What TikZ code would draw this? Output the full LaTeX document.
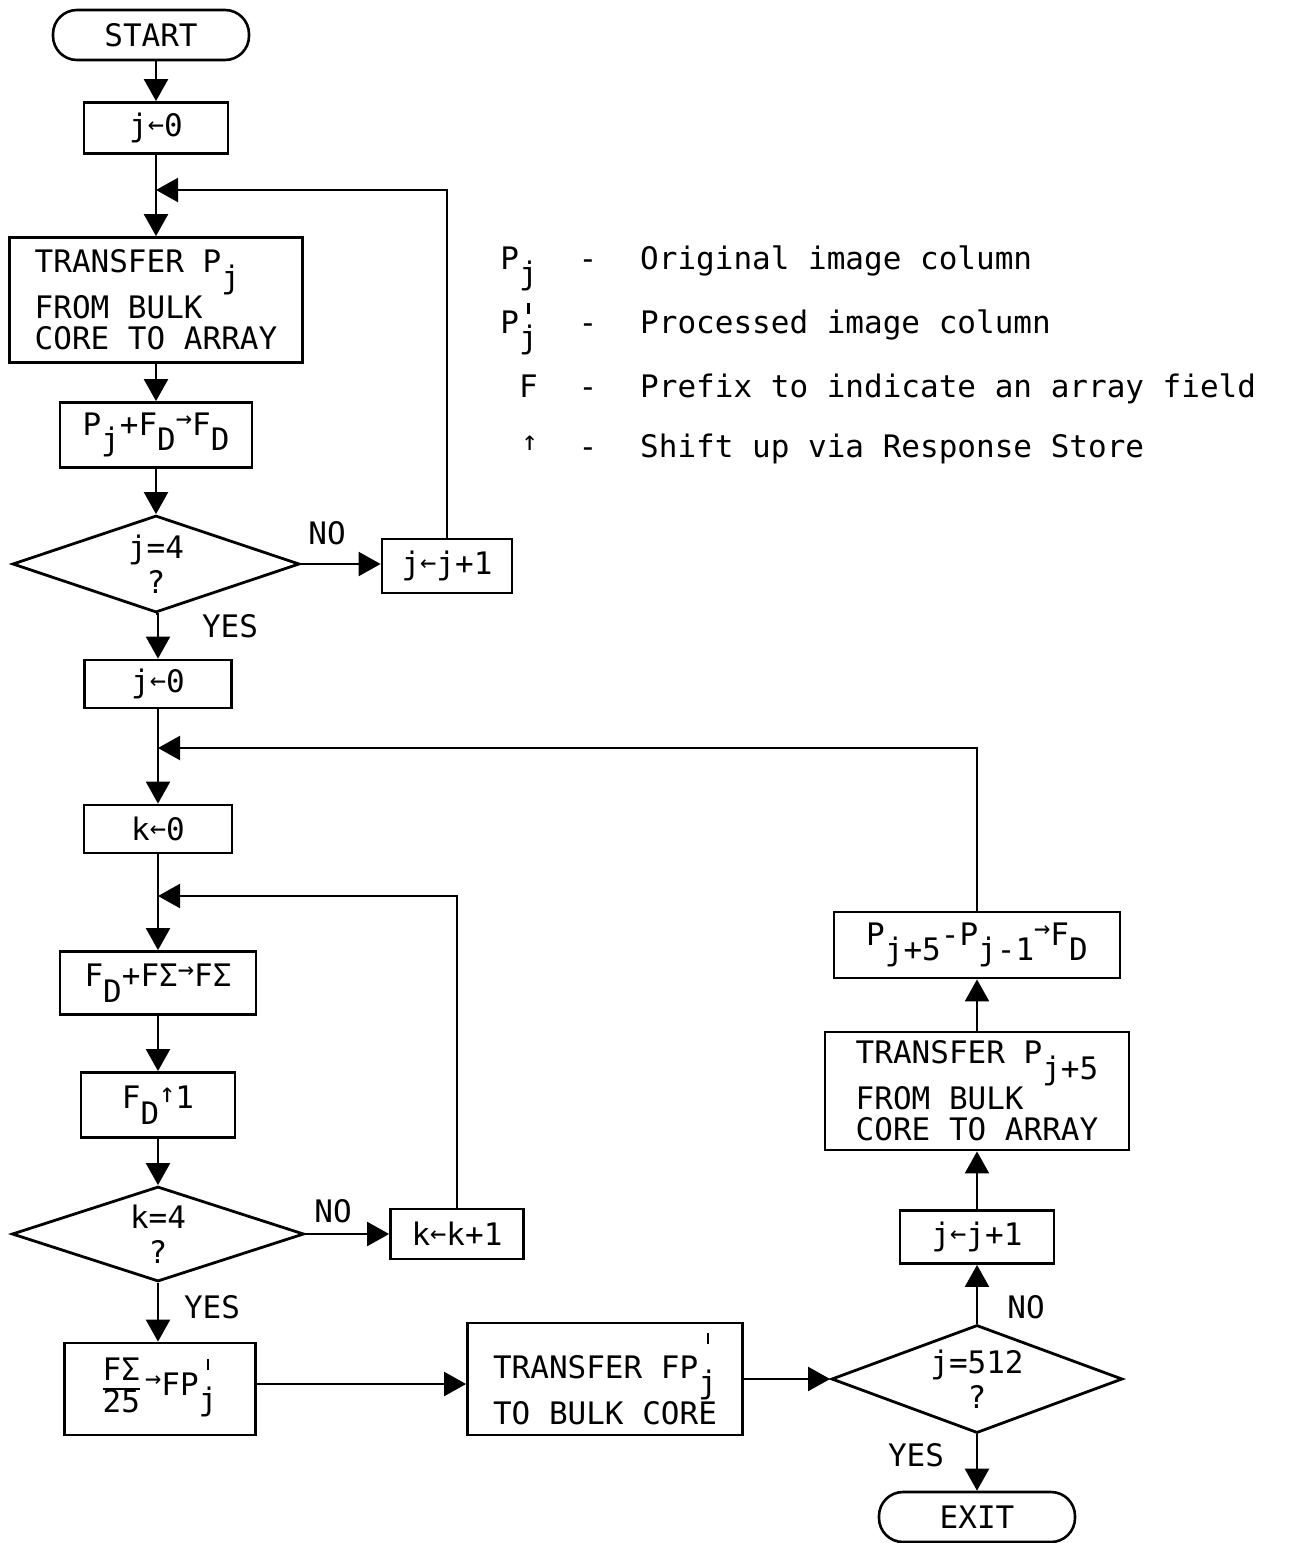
\documentclass[tikz,border=0pt]{standalone}
\usepackage{fontspec}
\setmainfont{DejaVu Sans Mono}
\usetikzlibrary{shapes.geometric,arrows.meta}
% typewriter-style subscript: full size, dropped below the baseline
\newcommand{\lo}[1]{\raisebox{-0.5em}{#1}}
% straight prime tick set above a dropped subscript
\newcommand{\pr}[2]{\rlap{\makebox[0.6em]{\raisebox{#1}{\rule{2.2pt}{11pt}}}}\raisebox{-0.5em}{#2}}
% small arrows used inside the formulas
\newcommand{\sla}{\raisebox{0.1em}{\fontsize{27}{27}\selectfont ←}}
\newcommand{\sra}{\raisebox{0.25em}{\fontsize{27}{27}\selectfont →}}
\newcommand{\sua}{\raisebox{0.2em}{\fontsize{27}{27}\selectfont ↑}}
\begin{document}
\begin{tikzpicture}[x=1pt,y=-1pt,
  font=\fontsize{31}{31}\selectfont,
  box/.style={draw,line width=2.8pt,inner sep=0pt},
  term/.style={draw,line width=2.6pt,rounded corners=24pt,minimum width=196pt,minimum height=50pt,inner sep=0pt},
  dec/.style={draw,diamond,line width=2.8pt,aspect=3,inner sep=0pt,align=center,font=\fontsize{31}{35}\selectfont},
  flow/.style={line width=2.2pt,-{Triangle[length=22pt,width=24pt]}},
  lbl/.style={inner sep=0pt}]
\useasboundingbox (0,0) rectangle (1290,1543);
\fill[white] (0,0) rectangle (1290,1543);

% ---- first loop: load five columns ----
\node[term] (start) at (151,35) {START};
\node[box,minimum width=144pt,minimum height=51pt] (ja) at (156,128) {j\sla0};
\node[box,minimum width=293pt,minimum height=125pt,align=left] (ta) at (156,300) {TRANSFER P\lo{j}\\FROM BULK\\CORE TO ARRAY};
\node[box,minimum width=192pt,minimum height=65pt] (pa) at (156,435) {P\lo{j}+F\lo{D}\sra F\lo{D}};
\node[dec,minimum width=287pt,minimum height=97pt] (da) at (156,564) {j=4\\?};
\node[box,minimum width=130pt,minimum height=54pt] (ia) at (447,566) {j\sla j+1};

% ---- second part: running sum over the array ----
\node[box,minimum width=147pt,minimum height=48pt] (jb) at (158,684) {j\sla0};
\node[box,minimum width=148pt,minimum height=48pt] (kb) at (158,829) {k\sla0};
\node[box,minimum width=196pt,minimum height=63pt] (sb) at (158,983) {F\lo{D}+FΣ\sra FΣ};
\node[box,minimum width=154pt,minimum height=65pt] (ub) at (158,1105) {F\lo{D}\sua1};
\node[dec,minimum width=292pt,minimum height=95pt] (db) at (158,1234) {k=4\\?};
\node[box,minimum width=133pt,minimum height=50pt] (ib) at (457,1234) {k\sla k+1};
\node[box,minimum width=191pt,minimum height=92pt] (fb) at (160,1389)
  {{\def\arraystretch{0.85}\setlength{\arrayrulewidth}{1.6pt}\begin{tabular}{@{}c@{}}FΣ\\\hline 25\end{tabular}}\,\sra FP\pr{0.8em}{j}};
\node[box,minimum width=275pt,minimum height=112pt,align=left] (tb) at (605,1379) {TRANSFER FP\pr{1.1em}{j}\\TO BULK CORE};
\node[dec,minimum width=291pt,minimum height=108pt,aspect=2.9] (dc) at (977,1379) {j=512\\?};
\node[term] (exit) at (977,1517) {EXIT};
\node[box,minimum width=154pt,minimum height=53pt] (ic) at (977,1237) {j\sla j+1};
\node[box,minimum width=304pt,minimum height=118pt,align=left] (tc) at (977,1091) {TRANSFER P\lo{j+5}\\FROM BULK\\CORE TO ARRAY};
\node[box,minimum width=286pt,minimum height=66pt] (pc) at (977,945) {P\lo{j+5}-P\lo{j-1}\sra F\lo{D}};

% ---- branch labels ----
\node[lbl] (no1) at (327,533) {NO};
\node[lbl] (yes1) at (230,626) {YES};
\node[lbl] (no2) at (333,1211) {NO};
\node[lbl] (yes2) at (212,1307) {YES};
\node[lbl] (no3) at (1026,1307) {NO};
\node[lbl] (yes3) at (916,1455) {YES};

% ---- merge points on the main column ----
\coordinate (ma) at (156,190);
\coordinate (mb) at (158,748);
\coordinate (mc) at (158,896);

% ---- connectors ----
\draw[flow] (ja.north |- start.south) -- (ja.north);
\draw[flow] (ja) -- (ta);
\draw[flow] (ia.north) |- (ma);
\draw[flow] (ta) -- (pa);
\draw[flow] (pa) -- (da);
\draw[flow] (da.east) -- (da.east -| ia.west);
\draw[flow] (da.south) -- (da.south -| jb.north) -- (jb.north);
\draw[flow] (jb) -- (kb);
\draw[flow] (pc.north) |- (mb);
\draw[flow] (kb) -- (sb);
\draw[flow] (ib.north) |- (mc);
\draw[flow] (sb) -- (ub);
\draw[flow] (ub) -- (db);
\draw[flow] (db.east) -- (db.east -| ib.west);
\draw[flow] (db) -- (fb.north -| db.south);
\draw[flow] ([yshift=5pt]fb.east) -- ([yshift=5pt]fb.east -| tb.west);
\draw[flow] (tb.east) -- (dc.west);
\draw[flow] (dc) -- (exit);
\draw[flow] (dc) -- (ic);
\draw[flow] (ic) -- (tc);
\draw[flow] (tc) -- (pc);

% ---- legend ----
\node[lbl,anchor=base east] (s1) at (538,269) {P\lo{j}};
\node[lbl,anchor=base east] (s2) at (538,333) {P\pr{0.62em}{j}};
\node[lbl,anchor=base east] (s3) at (538,397) {F};
\node[lbl,anchor=base east] (s4) at (538,457) {\sua};
\node[lbl,anchor=base] (d1) at (588,269) {-};
\node[lbl,anchor=base] (d2) at (588,333) {-};
\node[lbl,anchor=base] (d3) at (588,397) {-};
\node[lbl,anchor=base] (d4) at (588,457) {-};
\node[lbl,anchor=base west] (t1) at (640,269) {Original image column};
\node[lbl,anchor=base west] (t2) at (640,333) {Processed image column};
\node[lbl,anchor=base west] (t3) at (640,397) {Prefix to indicate an array field};
\node[lbl,anchor=base west] (t4) at (640,457) {Shift up via Response Store};
\end{tikzpicture}
\end{document}
